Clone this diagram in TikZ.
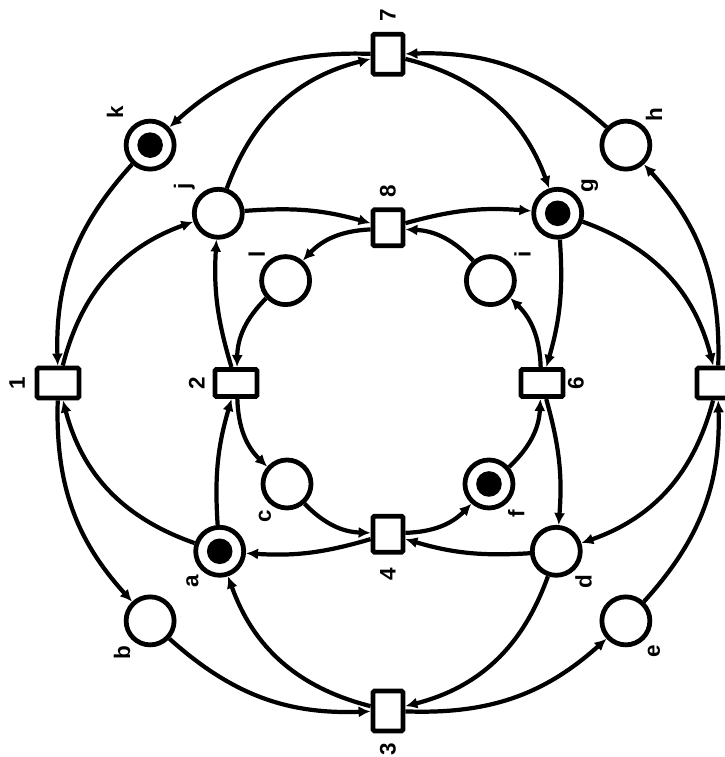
\documentclass[tikz,border=0pt]{standalone}
\usepackage{fontspec}
\setsansfont{Liberation Sans}
\usepackage{tikz}
\usetikzlibrary{arrows.meta}
\tikzset{
  pl/.style={circle, draw, line width=3.4pt, minimum size=1.2cm, inner sep=0pt},
  tok/.style={pl, path picture={\fill (path picture bounding box.center) circle (0.32cm);}},
  trv/.style={rectangle, draw, line width=3.4pt, rounded corners=1pt, fill=white,
              minimum width=0.75cm, minimum height=1cm, inner sep=0pt},
  trh/.style={trv, minimum width=1.05cm, minimum height=0.75cm},
  lbl/.style={rotate=90, inner sep=0pt, font=\sffamily\bfseries\fontsize{16}{16}\selectfont},
  arr/.style={-{Latex[length=3mm, width=2.8mm]}, line width=3pt},
}
\begin{document}
\begin{tikzpicture}
  \useasboundingbox (-9.7,-9.35) rectangle (8.425,9.575);
  % transitions
  \node[trv] (t7) at (90:8.22) {};
  \node[trh] (t1) at (180:8.25) {};
  \node[trv] (t3) at (270:8.2) {};
  \node[trh] (t5) at (0:8.25) {};
  \node[trv, minimum height=0.9cm] (t8) at (90:3.88) {};
  \node[trh, minimum height=0.68cm] (t2) at (180:3.8) {};
  \node[trv, minimum height=0.9cm] (t4) at (270:3.78) {};
  \node[trh, minimum height=0.68cm] (t6) at (0:3.85) {};
  % places
  \node[tok] (k) at (135:8.41) {};
  \node[pl] (h) at (45:8.41) {};
  \node[pl] (b) at (225:8.41) {};
  \node[pl] (e) at (315:8.41) {};
  \node[pl] (j) at (135:6.0) {};
  \node[tok] (g) at (45:6.0) {};
  \node[tok] (a) at (225:5.95) {};
  \node[pl] (d) at (315:5.95) {};
  \node[pl] (l) at (135:3.62) {};
  \node[pl] (i) at (45:3.62) {};
  \node[pl] (c) at (225:3.57) {};
  \node[tok] (f) at (315:3.57) {};
  % labels
  \node[lbl] (l7) at ([yshift=9.7mm]t7) {7};
  \node[lbl] (l1) at ([xshift=-10.2mm]t1) {1};
  \node[lbl] (l3) at ([yshift=-9.5mm]t3) {3};
  \node[lbl] (l8) at ([yshift=9.2mm]t8) {8};
  \node[lbl] (l2) at ([xshift=-9.8mm]t2) {2};
  \node[lbl] (l4) at ([yshift=-10mm]t4) {4};
  \node[lbl] (l6) at ([xshift=8.5mm]t6) {6};
  \node[lbl] (lk) at ([xshift=-8.8mm, yshift=8.2mm]k) {k};
  \node[lbl] (lh) at ([xshift=7mm, yshift=7.5mm]h) {h};
  \node[lbl] (lb) at ([xshift=-7mm, yshift=-8mm]b) {b};
  \node[lbl] (le) at ([xshift=7mm, yshift=-7.5mm]e) {e};
  \node[lbl] (lj) at ([xshift=-8.5mm, yshift=6.8mm]j) {j};
  \node[lbl] (lg) at ([xshift=8mm, yshift=7mm]g) {g};
  \node[lbl] (la) at ([xshift=-6.8mm, yshift=-7.5mm]a) {a};
  \node[lbl] (ld) at ([xshift=6.8mm, yshift=-7.5mm]d) {d};
  \node[lbl] (ll) at ([xshift=-7.2mm, yshift=6.5mm]l) {l};
  \node[lbl] (li) at ([xshift=8mm, yshift=6.5mm]i) {i};
  \node[lbl] (lc) at ([xshift=-5.5mm, yshift=-8mm]c) {c};
  \node[lbl] (lf) at ([xshift=6.8mm, yshift=-7.5mm]f) {f};
  % outer ring
  \draw[arr] (t7) to[bend right=22] (k);
  \draw[arr] (k) to[bend right=22] (t1);
  \draw[arr] (t1) to[bend right=22] (b);
  \draw[arr] (b) to[bend right=22] (t3);
  \draw[arr] (t3) to[bend right=22] (e);
  \draw[arr] (e) to[bend right=22] (t5);
  \draw[arr] (t5) to[bend right=22] (h);
  \draw[arr] (h) to[bend right=22] (t7);
  % middle places to outer transitions
  \draw[arr] (t7) to[bend left=28] (g);
  \draw[arr] (g) to[bend left=28] (t5);
  \draw[arr] (t5) to[bend left=28] (d);
  \draw[arr] (d) to[bend left=28] (t3);
  \draw[arr] (t3) to[bend left=28] (a);
  \draw[arr] (a) to[bend left=28] (t1);
  \draw[arr] (t1) to[bend left=28] (j);
  \draw[arr] (j) to[bend left=28] (t7);
  % middle places to inner transitions
  \draw[arr] (j) to[bend left=10] (t8);
  \draw[arr] (t8) to[bend left=10] (g);
  \draw[arr] (g) to[bend left=10] (t6);
  \draw[arr] (t6) to[bend left=10] (d);
  \draw[arr] (d) to[bend left=10] (t4);
  \draw[arr] (t4) to[bend left=10] (a);
  \draw[arr] (a) to[bend left=10] (t2);
  \draw[arr] (t2) to[bend left=10] (j);
  % inner ring
  \draw[arr] (t8) to[bend right=22] (l);
  \draw[arr] (l) to[bend right=22] (t2);
  \draw[arr] (t2) to[bend right=22] (c);
  \draw[arr] (c) to[bend right=22] (t4);
  \draw[arr] (t4) to[bend right=22] (f);
  \draw[arr] (f) to[bend right=22] (t6);
  \draw[arr] (t6) to[bend right=22] (i);
  \draw[arr] (i) to[bend right=22] (t8);
\end{tikzpicture}
\end{document}
